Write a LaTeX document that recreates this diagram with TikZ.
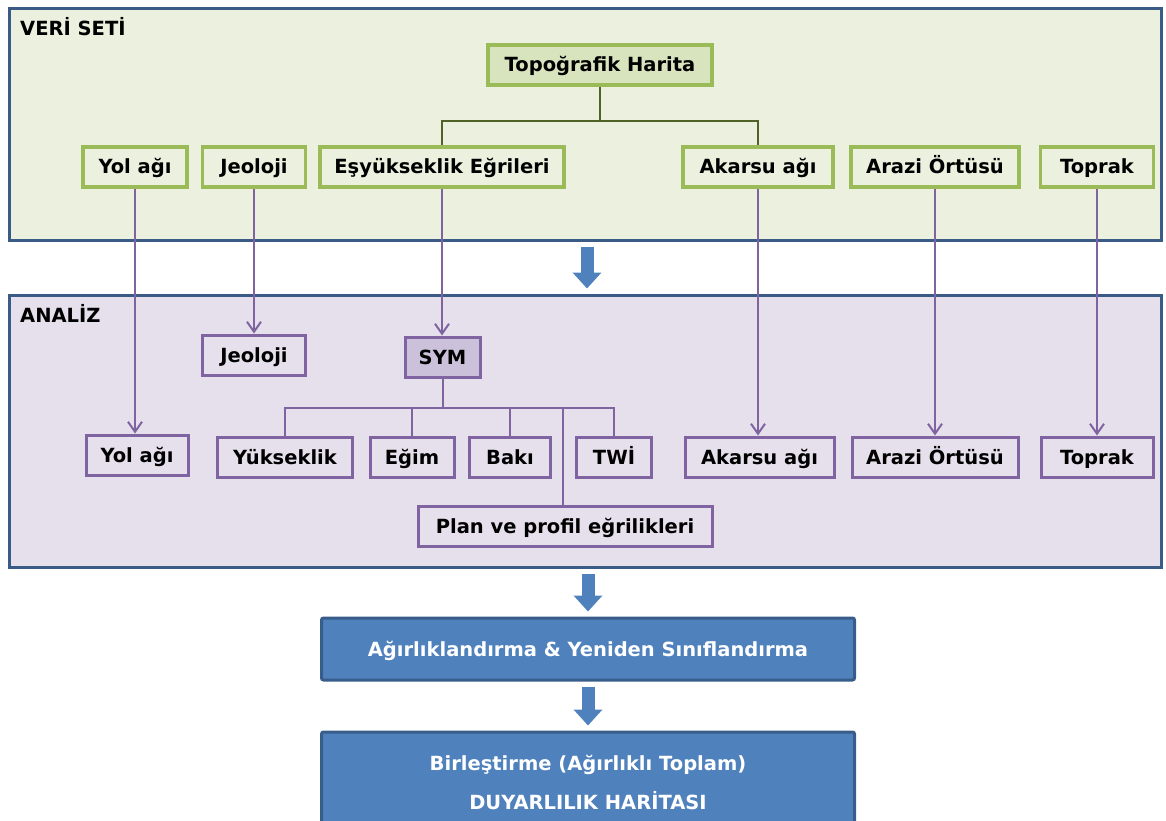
\documentclass[tikz,border=0pt]{standalone}
\usepackage{fontspec}
\setmainfont{DejaVu Sans}
\usetikzlibrary{arrows.meta}

\definecolor{panelline}{HTML}{3B5B87}
\definecolor{veribg}{HTML}{EBF1DE}
\definecolor{veriline}{HTML}{9BBB59}
\definecolor{topobg}{HTML}{D7E4BD}
\definecolor{treegreen}{HTML}{4F6228}
\definecolor{analizbg}{HTML}{E5E0EC}
\definecolor{analizline}{HTML}{8064A2}
\definecolor{symbg}{HTML}{CCC1DA}
\definecolor{stepblue}{HTML}{4F81BD}
\definecolor{stepline}{HTML}{385D8A}

\tikzset{
  panel/.style={draw=panelline, line width=3pt, inner sep=0pt},
  paneltitle/.style={anchor=west, inner sep=0pt, font=\bfseries\fontsize{19.5}{22}\selectfont},
  verinode/.style={draw=veriline, line width=3.5pt, fill=veribg, inner sep=0pt,
    minimum height=40pt, text height=16pt, text depth=2pt,
    font=\bfseries\fontsize{19.5}{22}\selectfont},
  analiznode/.style={draw=analizline, line width=3pt, fill=analizbg, inner sep=0pt,
    minimum height=40pt, text height=16pt, text depth=2pt,
    font=\bfseries\fontsize{19.5}{22}\selectfont},
  stepbox/.style={draw=stepline, line width=3pt, fill=stepblue, rounded corners=2pt,
    inner sep=0pt, text=white, text height=16pt, text depth=2pt,
    font=\bfseries\fontsize{19.5}{22}\selectfont},
  treeline/.style={draw=treegreen, line width=2pt},
  symline/.style={draw=analizline, line width=2pt},
  feedline/.style={draw=analizline, line width=2pt, -{Straight Barb[length=10pt,width=14pt]}},
  blockarrow/.style={draw=stepblue, line width=13pt, -{Triangle[length=16pt,width=28pt]},
    shorten <=5pt, shorten >=5pt}
}

\begin{document}
\begin{tikzpicture}[x=1pt,y=-1pt]
  \useasboundingbox (0,0) rectangle (1166,821);

  % panels
  \node [panel, fill=veribg, minimum width=1152pt, minimum height=231pt] (veri) at (585,124.5) {};
  \node [paneltitle] (veritext) at (20,27) {VERİ SETİ};
  \node [panel, fill=analizbg, minimum width=1152pt, minimum height=272pt] (analiz) at (585,431) {};
  \node [paneltitle] (analiztext) at (20,313) {ANALİZ};

  % data set
  \node [verinode, fill=topobg, minimum width=224pt] (topo) at (600,65) {Topoğrafik Harita};
  \node [verinode, minimum width=104pt] (yol) at (135,167) {Yol ağı};
  \node [verinode, minimum width=103pt] (jeo) at (254,167) {Jeoloji};
  \node [verinode, minimum width=244pt] (esy) at (442,167) {Eşyükseklik Eğrileri};
  \node [verinode, minimum width=150pt] (akarsu) at (758,167) {Akarsu ağı};
  \node [verinode, minimum width=168pt] (arazi) at (935,167) {Arazi Örtüsü};
  \node [verinode, minimum width=113pt] (toprak) at (1097,167) {Toprak};

  % topo tree
  \draw [treeline] (topo.south) -- ++(0,34) coordinate (topobar);
  \draw [treeline] (esy.north) |- (topobar) -| (akarsu.north);

  % analysis
  \node [analiznode, minimum width=103pt] (jeoA) at (254,355) {Jeoloji};
  \node [analiznode, fill=symbg, minimum width=75pt] (sym) at (442.5,357) {SYM};
  \node [analiznode, minimum width=102pt] (yolA) at (137,455) {Yol ağı};
  \node [analiznode, minimum width=135pt] (yuk) at (285,457) {Yükseklik};
  \node [analiznode, minimum width=84pt] (egim) at (412,457) {Eğim};
  \node [analiznode, minimum width=81pt] (baki) at (510,457) {Bakı};
  \node [analiznode, minimum width=75pt] (twi) at (614,457) {TWİ};
  \node [analiznode, minimum width=149pt] (akarsuA) at (759.5,457) {Akarsu ağı};
  \node [analiznode, minimum width=166pt] (araziA) at (935,457) {Arazi Örtüsü};
  \node [analiznode, minimum width=112pt] (toprakA) at (1097,457) {Toprak};
  \node [analiznode, minimum width=294pt] (plan) at (565,526.5) {Plan ve profil eğrilikleri};

  % data set -> analysis
  \draw [feedline] (yol.south) -- (yol.south |- yolA.north);
  \draw [feedline] (jeo.south) -- (jeo.south |- jeoA.north);
  \draw [feedline] (esy.south) -- (esy.south |- sym.north);
  \draw [feedline] (akarsu.south) -- (akarsu.south |- akarsuA.north);
  \draw [feedline] (arazi.south) -- (arazi.south |- araziA.north);
  \draw [feedline] (toprak.south) -- (toprak.south |- toprakA.north);

  % SYM tree
  \draw [symline] (sym.south) -- ++(0,29) coordinate (symbar);
  \draw [symline] (yuk.north) |- (symbar) -| (twi.north);
  \draw [symline] (egim.north) -- (egim.north |- symbar);
  \draw [symline] (baki.north) -- (baki.north |- symbar);
  \draw [symline] ([xshift=-2pt]plan.north) -- ([xshift=-2pt]plan.north |- symbar);

  % steps
  \node [stepbox, minimum width=533pt, minimum height=62pt] (agirlik) at (588,649) {Ağırlıklandırma \& Yeniden Sınıflandırma};
  \node [stepbox, minimum width=533pt, minimum height=120pt] (birlestir) at (588,792) {};
  \node [align=center, inner sep=0pt, text=white, font=\bfseries\fontsize{19.5}{39}\selectfont] (birltext) at (588,782)
    {Birleştirme (Ağırlıklı Toplam)\\DUYARLILIK HARİTASI};

  % block arrows
  \draw [blockarrow] ([xshift=2pt]veri.south) -- ([xshift=2pt]veri.south |- analiz.north);
  \draw [blockarrow] (agirlik.north |- analiz.south) -- (agirlik.north);
  \draw [blockarrow] (agirlik.south) -- (birlestir.north);
\end{tikzpicture}
\end{document}
